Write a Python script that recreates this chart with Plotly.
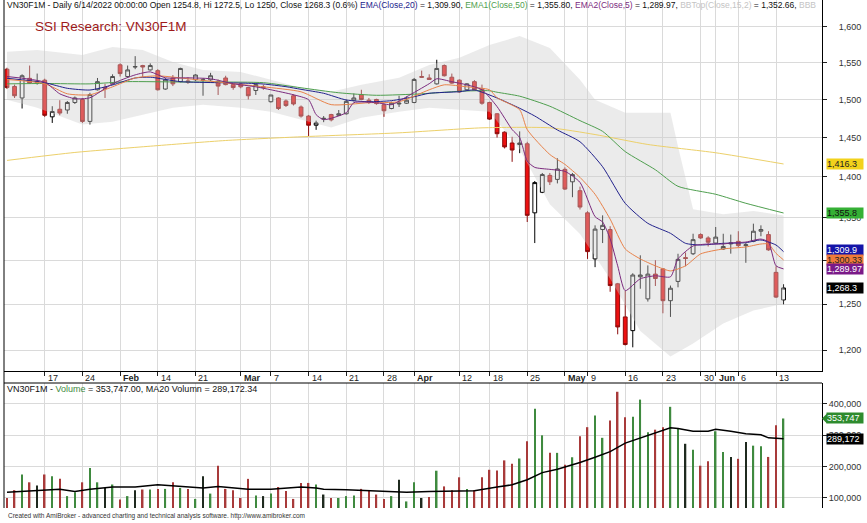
import math
import plotly.graph_objects as go

# ---------------- data ----------------
trading_days = {
    "2022-01": [10, 11, 12, 13, 14, 17, 18, 19, 20, 21, 24, 25, 26, 27, 28],
    "2022-02": [7, 8, 9, 10, 11, 14, 15, 16, 17, 18, 21, 22, 23, 24, 25, 28],
    "2022-03": [1, 2, 3, 4, 7, 8, 9, 10, 11, 14, 15, 16, 17, 18, 21, 22, 23, 24, 25, 28, 29, 30, 31],
    "2022-04": [1, 4, 5, 6, 7, 8, 12, 13, 14, 15, 18, 19, 20, 21, 22, 25, 26, 27, 28, 29],
    "2022-05": [4, 5, 6, 9, 10, 11, 12, 13, 16, 17, 18, 19, 20, 23, 24, 25, 26, 27, 30, 31],
    "2022-06": [1, 2, 3, 6, 7, 8, 9, 10, 13, 14],
}
dates = [f"{m}-{d:02d}" for m, ds in trading_days.items() for d in ds]

open_ = [1541, 1517.5, 1502, 1528.5, 1523, 1526, 1477, 1487, 1486, 1496,
         1500, 1471, 1513, 1516, 1521, 1547, 1531, 1544, 1546, 1540,
         1539, 1514, 1529, 1524, 1525, 1526.5, 1526, 1526.5, 1524, 1529,
         1520, 1521, 1516, 1512, 1517, 1497, 1502, 1498, 1505, 1490,
         1478, 1466, 1474, 1480, 1479, 1481, 1499, 1506.5, 1499, 1500,
         1493, 1488, 1494, 1495, 1496, 1531, 1529, 1521, 1546, 1530,
         1526, 1513, 1524, 1514, 1496, 1481, 1457, 1443, 1441, 1442,
         1356, 1381, 1402, 1397, 1409.5, 1394, 1383, 1356, 1301.5, 1336,
         1336, 1273, 1236, 1221, 1281, 1256, 1284, 1290, 1254, 1275.7,
         1303, 1307.5, 1330, 1326, 1320, 1313, 1319, 1322, 1317, 1322,
         1334, 1330, 1286, 1254.8]
high = [1543, 1520, 1534, 1546, 1535, 1528, 1491, 1499, 1498, 1504,
        1502, 1509, 1529, 1521, 1534, 1549, 1546, 1559, 1547, 1549,
        1541, 1529, 1533, 1543, 1530, 1534, 1529, 1536, 1527, 1532,
        1521, 1522, 1517, 1521, 1520, 1506, 1503, 1500, 1507, 1492,
        1479.5, 1472, 1478, 1481, 1486, 1500, 1508, 1513, 1502, 1501,
        1495, 1497, 1505, 1504, 1529, 1539, 1534, 1554, 1547.5, 1535,
        1527, 1522, 1526, 1520, 1497, 1482, 1458, 1451, 1458, 1444.5,
        1395, 1405, 1405, 1423.5, 1412, 1405, 1388, 1358, 1341, 1353,
        1340, 1274, 1265, 1285, 1305.7, 1294, 1300, 1291, 1271, 1307.5,
        1309, 1331, 1331.5, 1328, 1339, 1331, 1330, 1334, 1320, 1343,
        1341, 1334, 1293, 1272.5]
low = [1514, 1502, 1488, 1521, 1520, 1477, 1469, 1479, 1481, 1494,
       1469, 1467, 1512, 1502, 1520, 1531, 1529, 1541, 1530, 1539,
       1512, 1513, 1518, 1523, 1521, 1525, 1505, 1525, 1506, 1519,
       1513, 1515, 1500, 1506, 1513, 1496, 1486, 1490, 1492, 1476,
       1452, 1460, 1470, 1471, 1478, 1480, 1497.5, 1499, 1494, 1493,
       1477, 1487, 1490, 1494, 1495, 1529, 1527, 1520, 1531, 1521,
       1509, 1512, 1512, 1493, 1473, 1450, 1436, 1419, 1430, 1345,
       1320, 1380, 1390, 1392, 1384, 1375, 1360, 1301.5, 1292, 1320,
       1264, 1217, 1205, 1203, 1267.4, 1253, 1270.5, 1240, 1236, 1269,
       1293, 1306, 1325, 1316, 1319, 1312, 1307.6, 1315, 1297, 1321,
       1328, 1311, 1257, 1250]
close = [1516, 1505, 1532, 1522, 1524, 1479, 1484, 1482, 1496, 1502,
         1471, 1506.5, 1524, 1515, 1531, 1535, 1540, 1544.5, 1544, 1546,
         1513, 1526.5, 1521, 1542, 1523.5, 1533, 1526.5, 1532, 1518, 1520,
         1516, 1517, 1505, 1520, 1516, 1506, 1488, 1492, 1494, 1478,
         1466, 1469, 1475, 1473, 1481, 1497.5, 1502, 1500, 1496, 1494.5,
         1485, 1495, 1495, 1499, 1527, 1530, 1527, 1542, 1532, 1522,
         1510, 1521, 1513, 1495, 1474, 1455, 1438, 1434, 1443, 1353,
         1393, 1403, 1394, 1410, 1385, 1403, 1363, 1310, 1336.5, 1341,
         1271, 1225, 1206, 1283, 1283, 1284, 1279, 1254, 1268, 1301,
         1302, 1324, 1326, 1321, 1327, 1316, 1320, 1317, 1318, 1334,
         1336, 1312, 1258, 1268.3]

# volume in thousands of contracts
volume_k = [100, 125, 175, 150, 140, 175, 169, 161, 106, 118,
            150, 196, 150, 132, 143, 95, 106, 125, 127, 127,
            129, 129, 150, 132, 129, 97, 169, 114, 203, 129,
            125, 100, 161, 108, 106, 114, 135, 122, 97, 148,
            148, 143, 111, 100, 100, 106, 108, 129, 122, 111,
            97, 106, 158, 89, 150, 100, 103, 187, 137, 125,
            166, 129, 125, 166, 190, 188, 220, 209, 226, 281,
            385, 300, 244, 244, 206, 230, 297, 326, 363, 292,
            347, 439, 358, 359, 414, 310, 318, 326, 391, 320,
            273, 254, 203, 217, 313, 247, 231, 225, 279, 267,
            265, 231, 332, 353.747]

# indicator lines at sample days (index into `dates`)
ma20v_day = [0, 2, 5, 7, 9, 11, 14, 17, 20, 23, 25, 26, 28, 30, 32, 35, 37, 39, 41, 42,
             45, 47, 49, 51, 53, 56, 62, 65, 67, 69, 71, 73, 76, 78, 80, 82, 84, 86, 88, 89,
             91, 93, 94, 96, 98, 100, 101, 103]
ma20v_k = [118, 121, 124, 128, 121, 128, 135, 135, 142, 137, 135, 132, 137, 132, 128, 128, 132, 135, 132, 128,
           126, 124, 121, 118, 118, 121, 123, 135, 142, 158, 181, 192, 213, 230, 248, 275, 292, 308, 324, 322,
           313, 313, 319, 313, 305, 302, 292, 289.17234]

ema20_day = [0, 5, 8, 11, 14, 17, 19, 23, 28, 32, 34, 37, 39, 42, 45, 48, 51, 54, 56, 60,
             62, 65, 68, 70, 73, 76, 79, 82, 85, 88, 90, 92, 95, 98, 100, 102, 103]
ema20_val = [1528.6, 1522.6, 1515, 1512.7, 1519.5, 1529, 1530, 1524, 1522.6, 1521.8, 1520.8, 1517.2, 1513.6,
             1508.3, 1499.3, 1497, 1498.4, 1503.7, 1508.3, 1510.4, 1512.7, 1502, 1488.3, 1478.1, 1459.8,
             1444.6, 1412.8, 1367.5, 1343.4, 1331.5, 1319.7, 1317.7, 1319.7, 1320.4, 1323.6, 1317.7, 1309.90]

ema50_day = [0, 5, 11, 16, 23, 28, 34, 39, 44, 49, 55, 60, 64, 65, 68, 72, 76, 79, 82, 86, 89, 94, 98, 103]
ema50_val = [1521, 1521.5, 1521, 1524, 1523.5, 1523.5, 1522.6, 1515.7, 1509, 1505.6, 1507.6, 1511, 1511.7,
             1509.7, 1504.4, 1491, 1472, 1458, 1432, 1409, 1388.4, 1378.6, 1367.6, 1355.80]

ema10_day = [0, 5, 8, 11, 14, 17, 20, 24, 30, 34, 39, 43, 48, 52, 56, 58, 61, 64, 65, 68, 69,
             72, 74, 76, 78, 80, 82, 84, 86, 88, 90, 92, 95, 98, 100, 101, 102, 103]
ema10_val = [1527, 1521.2, 1507.6, 1506.3, 1517, 1529, 1531.9, 1527.9, 1521.2, 1517, 1510.3, 1493.1,
             1495.7, 1497, 1513, 1519.7, 1517, 1513, 1502.3, 1486.4, 1460.3, 1428.3, 1415.8, 1399.5,
             1378.6, 1348.4, 1313.1, 1301.5, 1293.5, 1287.7, 1293.5, 1307.3, 1313.1, 1315.4, 1318.9,
             1318.9, 1308, 1300.33]

ema5_day = [0, 5, 7, 9, 11, 14, 17, 19, 21, 24, 27, 30, 33, 35, 38, 40, 41, 42, 45, 46,
            49, 51, 53, 56, 57, 59, 61, 63, 65, 67, 68, 69, 70, 72, 74, 76, 78, 79, 80, 81, 82,
            84, 86, 88, 89, 91, 93, 95, 96, 98, 100, 101, 102, 103]
ema5_val = [1531, 1523.2, 1507.6, 1501, 1502.3, 1521.2, 1533.2, 1537.3, 1529.2, 1529.2, 1527.9, 1521.2,
            1517, 1513, 1506.3, 1499.7, 1479.9, 1473.3, 1482.5, 1495.7, 1495.7, 1493.1, 1503.6, 1521.2,
            1527.9, 1523.9, 1519.7, 1513, 1490.5, 1460.3, 1450, 1420, 1412, 1409.5, 1407, 1393.3,
            1351.4, 1345, 1325, 1293.5, 1265.2, 1278.7, 1282.1, 1280.9, 1301.5, 1316.6, 1318.9, 1318.9,
            1320.1, 1321.2, 1324.7, 1321.2, 1293.5, 1289.97]

long_ma_day = [0, 9, 19, 29, 39, 52, 63, 72, 78, 85, 94, 103]
long_ma_val = [1420.8, 1430.9, 1438.9, 1446.2, 1451, 1456.1, 1462.6, 1462.6, 1453.9, 1441.1, 1430.5, 1416.3]

bbtop_day = [0, 4, 10, 14, 18, 22, 26, 31, 35, 39, 43, 47, 52, 56, 60, 64, 68, 72, 76, 78,
             82, 88, 89, 91, 95, 99, 103]
bbtop_val = [1565, 1567.6, 1560.7, 1571.8, 1567.6, 1551, 1540, 1537.3, 1526.5, 1515.7, 1510.3, 1519.7,
             1529.2, 1546.9, 1556.6, 1574.6, 1587.2, 1570.4, 1526.5, 1499.7, 1482.5, 1482.5, 1438.5,
             1360.4, 1354.4, 1358.3, 1352.66]
bbbot_day = [0, 4, 10, 14, 18, 22, 26, 31, 35, 39, 43, 47, 52, 56, 60, 64, 68, 72, 76, 80,
             84, 88, 91, 95, 99, 103]
bbbot_val = [1499.7, 1489, 1466.8, 1470.7, 1479.9, 1489, 1493.1, 1489, 1483.8, 1473.3, 1462.9, 1475.9,
             1483.8, 1489, 1486.4, 1483.8, 1434.7, 1366.4, 1330.8, 1278.7, 1220.6, 1193.3, 1207.2,
             1228.7, 1243, 1250.6]

tick_dates = ["2022-01-17", "2022-01-24", "2022-02-07", "2022-02-14", "2022-02-21", "2022-03-01",
              "2022-03-07", "2022-03-14", "2022-03-21", "2022-03-28", "2022-04-01", "2022-04-12",
              "2022-04-18", "2022-04-25", "2022-05-04", "2022-05-09", "2022-05-16", "2022-05-23",
              "2022-05-30", "2022-06-01", "2022-06-06", "2022-06-13"]
tick_text = ["17", "24", "<b>Feb</b>", "14", "21", "<b>Mar</b>", "7", "14", "21", "28", "<b>Apr</b>",
             "12", "18", "25", "<b>May</b>", "9", "16", "23", "30", "<b>Jun</b>", "6", "13"]

price_ticks = [1200, 1250, 1300, 1350, 1400, 1450, 1500, 1550, 1600]
vol_ticks_k = [100, 200, 300, 400]

# ---------------- figure ----------------
FONT = "Liberation Sans, Arial, sans-serif"
W, H = 867, 523
ML, MR, MT, MB = 4, 45, 0, 15
PH = H - MT - MB
x = list(range(len(dates)))
tick_idx = [dates.index(d) for d in tick_dates]
grid = "#dadada"

fig = go.Figure()

# Bollinger band
fig.add_trace(go.Scatter(x=bbbot_day, y=bbbot_val, mode="lines", line=dict(width=0, color="rgba(0,0,0,0)"),
                         hoverinfo="skip", showlegend=False))
fig.add_trace(go.Scatter(x=bbtop_day, y=bbtop_val, mode="lines", line=dict(width=0, color="rgba(0,0,0,0)"),
                         fill="tonexty", fillcolor="rgba(205,205,205,0.40)", hoverinfo="skip", showlegend=False))

for d, v, c in [(long_ma_day, long_ma_val, "#ecd06a"),
                (ema50_day, ema50_val, "#4f9f4f"),
                (ema20_day, ema20_val, "#22228c"),
                (ema10_day, ema10_val, "#e8824a"),
                (ema5_day, ema5_val, "#7b2a7e")]:
    fig.add_trace(go.Scatter(x=d, y=v, mode="lines", line=dict(color=c, width=1, shape="spline", smoothing=0.6),
                             showlegend=False))

fig.add_trace(go.Candlestick(
    x=x, open=open_, high=high, low=low, close=close,
    increasing=dict(fillcolor="white", line=dict(color="black", width=1)),
    decreasing=dict(fillcolor="#ec1010", line=dict(color="#8c0c0c", width=1)),
    showlegend=False, xaxis="x", yaxis="y"))

# volume
vol_colors = []
for o, c in zip(open_, close):
    if abs(c - o) < 1.5:
        vol_colors.append("#1f2a1f")
    elif c > o:
        vol_colors.append("#3f8a3f")
    else:
        vol_colors.append("#a83a3a")
fig.add_trace(go.Bar(x=x, y=[v * 1000 for v in volume_k], width=0.2, marker=dict(color=vol_colors, line_width=0),
                     xaxis="x2", yaxis="y2", showlegend=False))
fig.add_trace(go.Scatter(x=ma20v_day, y=[v * 1000 for v in ma20v_k], mode="lines",
                         line=dict(color="black", width=1.5), xaxis="x2", yaxis="y2", showlegend=False))

xr = [-0.4, 108.1]
p_dom = [1 - 371 / PH, 1]
v_dom = [0, (PH - 383) / PH]

fig.update_layout(
    width=W, height=H, margin=dict(l=ML, r=MR, t=MT, b=MB),
    paper_bgcolor="white", plot_bgcolor="white",
    font=dict(family=FONT, size=9, color="#222"),
    boxgap=0.28,
    xaxis=dict(domain=[0, 1], range=xr, anchor="y", rangeslider=dict(visible=False),
               tickmode="array", tickvals=tick_idx, showticklabels=False,
               ticks="outside", ticklen=4, tickcolor="#222", showgrid=True, gridcolor=grid, gridwidth=1,
               zeroline=False, showline=True, linecolor="black", linewidth=1),
    yaxis=dict(domain=p_dom, type="log", range=[math.log10(1177.9), math.log10(1638.9)], side="right",
               tickmode="array", tickvals=price_ticks, ticktext=[f"{t:,}" for t in price_ticks],
               ticks="outside", ticklen=4, tickcolor="#222", ticklabelstandoff=10,
               showgrid=True, gridcolor=grid, zeroline=False, showline=True, linecolor="black",
               tickfont=dict(size=9, color="#333")),
    xaxis2=dict(domain=[0, 1], range=xr, anchor="y2", matches="x", tickmode="array", tickvals=tick_idx,
                showticklabels=False, showgrid=True, gridcolor=grid, zeroline=False),
    yaxis2=dict(domain=v_dom, range=[68000, 467000], side="right", tickmode="array",
                tickvals=[t * 1000 for t in vol_ticks_k], ticktext=[f"{t * 1000:,}" for t in vol_ticks_k],
                ticks="outside", ticklen=4, tickcolor="#222", showgrid=True, gridcolor=grid,
                zeroline=False, showline=True, linecolor="black", tickfont=dict(size=9, color="#333")),
)

ann = []
# date labels between panels
for i, t in zip(tick_idx, tick_text):
    ann.append(dict(x=i, xref="x", y=1 - 377.5 / PH, yref="paper", text=t, showarrow=False,
                    xanchor="left", yanchor="middle", xshift=1, font=dict(size=9, color="#222")))

header = ("VN30F1M - Daily 6/14/2022 00:00:00 Open 1254.8, Hi 1272.5, Lo 1250, Close 1268.3 (0.6%) "
          "<span style='color:#22228c'>EMA(Close,20)</span> = 1,309.90, "
          "<span style='color:#4f9f4f'>EMA1(Close,50)</span> = 1,355.80, "
          "<span style='color:#7b2a7e'>EMA2(Close,5)</span> = 1,289.97, "
          "<span style='color:#c4c4c4'>BBTop(Close,15,2)</span> = 1,352.66, "
          "<span style='color:#c4c4c4'>BBB</span>")
ann.append(dict(x=0, xref="paper", y=1 - 5 / PH, yref="paper", text=header, showarrow=False,
                xanchor="left", yanchor="middle", xshift=1, font=dict(size=8.5, color="#111")))
ann.append(dict(x=(33 - ML) / (W - ML - MR), xref="paper", y=1 - 26 / PH, yref="paper",
                text="SSI Research: VN30F1M", showarrow=False, xanchor="left", yanchor="middle",
                font=dict(size=13.5, color="#9e1a1a")))
ann.append(dict(x=0, xref="paper", y=1 - 388.5 / PH, yref="paper",
                text="VN30F1M - <span style='color:#3f8a3f'>Volume</span> = 353,747.00, MA20 Volumn = 289,172.34",
                showarrow=False, xanchor="left", yanchor="middle", xshift=1, font=dict(size=9, color="#111")))
ann.append(dict(x=0, xref="paper", y=1 - 516 / PH, yref="paper",
                text="Created with AmiBroker - advanced charting and technical analysis software. http://www.amibroker.com",
                showarrow=False, xanchor="left", yanchor="middle", xshift=2, font=dict(size=6.5, color="#333")))

# right-hand value tags
tags = [(long_ma_val[-1], "1,416.3", "#f2d21c", "#222", 0),
        (ema50_val[-1], "1,355.8", "#35b035", "#111", 0),
        (ema20_val[-1], "1,309.9", "#1414a8", "white", 2),
        (ema10_val[-1], "1,300.33", "#f07a3a", "#222", 0),
        (ema5_val[-1], "1,289.97", "#7a1a88", "white", 0),
        (close[-1], "1,268.3", "black", "white", 0)]
for v, t, bg, fc, ys in tags:
    ann.append(dict(x=1, xref="paper", y=math.log10(v), yref="y", text=t, showarrow=False,
                    xanchor="left", yanchor="middle", xshift=4, yshift=ys, bgcolor=bg, borderpad=0,
                    width=36, align="left", font=dict(size=9, color=fc)))
for v, t, bg in [(volume_k[-1] * 1000, "353,747", "#2e8b2e"), (ma20v_k[-1] * 1000, "289,172", "black")]:
    ann.append(dict(x=1, xref="paper", y=v, yref="y2", text=t, showarrow=False,
                    xanchor="left", yanchor="middle", xshift=4, bgcolor=bg, borderpad=0,
                    width=36, align="left", font=dict(size=9, color="white")))
fig.update_layout(annotations=ann)

shapes = [
    dict(type="line", xref="paper", yref="paper", x0=0, x1=0, y0=0, y1=1, line=dict(color="black", width=1)),
    dict(type="line", xref="paper", yref="paper", x0=0, x1=1, y0=1 - 383 / PH, y1=1 - 383 / PH,
         line=dict(color="black", width=1)),
    dict(type="path", xref="paper", yref="y", xsizemode="pixel", ysizemode="pixel", xanchor=1,
         yanchor=math.log10(close[-1]), path="M0,0 L5,5 L5,-5 Z", fillcolor="black", line=dict(width=0)),
    dict(type="path", xref="paper", yref="y2", xsizemode="pixel", ysizemode="pixel", xanchor=1,
         yanchor=volume_k[-1] * 1000, path="M0,0 L5,5 L5,-5 Z", fillcolor="#2e8b2e", line=dict(width=0)),
]
fig.update_layout(shapes=shapes)

fig.write_html("out.html")
